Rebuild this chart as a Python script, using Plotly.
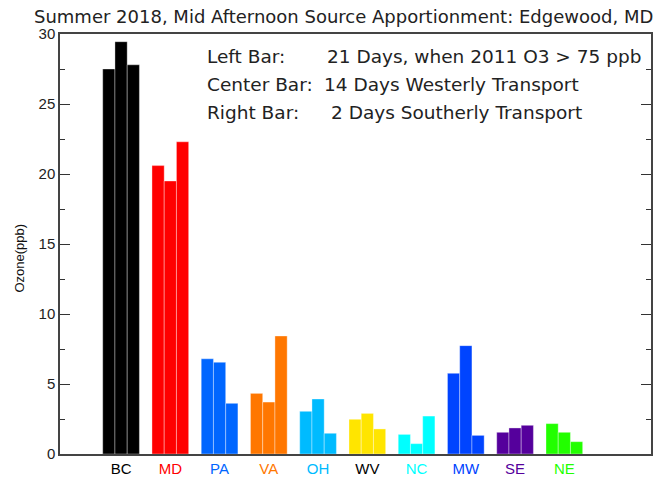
import plotly.graph_objects as go

regions = ["BC", "MD", "PA", "VA", "OH", "WV", "NC", "MW", "SE", "NE"]
colors = ["#000000", "#FF0000", "#0066FF", "#FF7700", "#00BBFF",
          "#FFE500", "#00FFFF", "#0044FF", "#55009C", "#22FF00"]
label_colors = ["#000000", "#FF0000", "#0066FF", "#FF7700", "#00BBFF",
                "#000000", "#00FFFF", "#0044FF", "#55009C", "#22FF00"]
left_bar = [27.5, 20.6, 6.8, 4.33, 3.05, 2.48, 1.4, 5.76, 1.55, 2.17]
center_bar = [29.45, 19.5, 6.55, 3.71, 3.93, 2.9, 0.74, 7.74, 1.86, 1.55]
right_bar = [27.8, 22.3, 3.62, 8.43, 1.48, 1.79, 2.71, 1.33, 2.05, 0.88]
series = [("Left Bar", left_bar), ("Center Bar", center_bar), ("Right Bar", right_bar)]

title = "Summer 2018, Mid Afternoon Source Apportionment: Edgewood, MD"
y_title = "Ozone(ppb)"
legend_labels = ["Left Bar:", "Center Bar:", "Right Bar:"]
legend_texts = ["21 Days, when 2011 O3 > 75 ppb",
                "14 Days Westerly Transport",
                "2 Days Southerly Transport"]

xpos = list(range(1, len(regions) + 1))

fig = go.Figure()
for name, vals in series:
    fig.add_trace(go.Bar(
        x=xpos, y=vals, name=name,
        marker=dict(color=colors, line=dict(color="rgba(255,255,255,0.35)", width=1)),
        showlegend=False,
    ))

hershey = "DejaVu Sans"
W, H = 670, 478
ml, mr, mt, mb = 59.5, 19, 34, 24
PW, PH = W - ml - mr, H - mt - mb


def px(x):
    return (x - ml) / PW


def py(y):
    return 1 - (y - mt) / PH


fig.update_layout(
    width=W, height=H,
    margin=dict(l=ml, r=mr, t=mt, b=mb, pad=0, autoexpand=False),
    paper_bgcolor="white", plot_bgcolor="white",
    barmode="group", bargap=0.255, bargroupgap=0,
    font=dict(family="Liberation Sans", color="#222222"),
)
fig.update_xaxes(
    range=[-0.24, 11.76], showgrid=False, zeroline=False, automargin=False,
    showline=True, linecolor="#444444", linewidth=1.5, mirror=True,
    tickvals=xpos,
    ticktext=[f"<span style='color:{c}'>{r}</span>" for r, c in zip(regions, label_colors)],
    ticks="", tickfont=dict(size=15, family="Liberation Sans"),
)
fig.update_yaxes(
    range=[0, 30], showgrid=False, zeroline=False, automargin=False,
    showline=True, linecolor="#444444", linewidth=1.5, mirror="ticks",
    tickvals=[0, 5, 10, 15, 20, 25, 30],
    ticks="inside", ticklen=10, tickwidth=1.2, tickcolor="#333333",
    minor=dict(dtick=2.5, ticks="inside", ticklen=5, tickwidth=1, tickcolor="#333333"),
    tickfont=dict(size=15, family="Liberation Sans", color="#222222"),
)

fig.add_annotation(
    text=y_title, xref="paper", yref="paper",
    x=px(18), y=py(258), xanchor="center", yanchor="middle",
    textangle=-90, showarrow=False,
    font=dict(size=13, family="Liberation Sans", color="#111111"),
)

fig.add_annotation(
    text=title, xref="paper", yref="paper",
    x=px(31), y=py(16.5),
    xanchor="left", yanchor="middle", showarrow=False,
    font=dict(family=hershey, size=18, color="#222222"),
)

rows_y = [56, 84, 112]
val_x = [325, 322, 329]
for lab, txt, yy, vx in zip(legend_labels, legend_texts, rows_y, val_x):
    fig.add_annotation(
        text=lab, xref="paper", yref="paper",
        x=px(205), y=py(yy),
        xanchor="left", yanchor="middle", showarrow=False,
        font=dict(family=hershey, size=18.5, color="#222222"),
    )
    fig.add_annotation(
        text=txt, xref="paper", yref="paper",
        x=px(vx), y=py(yy),
        xanchor="left", yanchor="middle", showarrow=False,
        font=dict(family=hershey, size=18.5, color="#222222"),
    )

fig.write_html(
    "out.html",
    config={"displayModeBar": False},
    post_script="document.body.style.margin='0px';document.body.style.overflow='hidden';",
)
